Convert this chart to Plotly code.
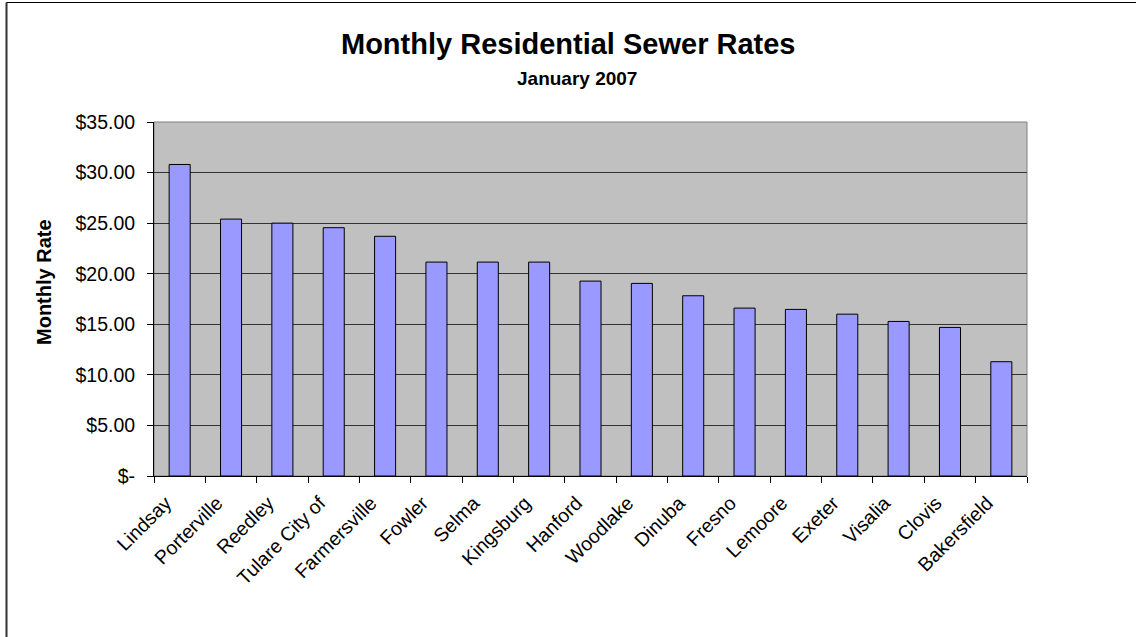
import plotly.graph_objects as go

cities = ["Lindsay", "Porterville", "Reedley", "Tulare City of", "Farmersville", "Fowler",
          "Selma", "Kingsburg", "Hanford", "Woodlake", "Dinuba", "Fresno", "Lemoore",
          "Exeter", "Visalia", "Clovis", "Bakersfield"]
rates = [30.80, 25.40, 25.00, 24.55, 23.70, 21.15, 21.15, 21.15, 19.27, 19.04, 17.82,
         16.60, 16.47, 16.00, 15.28, 14.69, 11.30]
tick_vals = [0, 5, 10, 15, 20, 25, 30, 35]
tick_text = ["$-", "$5.00", "$10.00", "$15.00", "$20.00", "$25.00", "$30.00", "$35.00"]

W, H = 1136, 637
L, R, T, B = 154, 109, 122, 161
PW, PH = W - L - R, H - T - B

def px(x):
    return (x - L) / PW

def py(y):
    return (H - B - y) / PH

fig = go.Figure()
fig.add_trace(go.Bar(x=cities, y=rates, marker=dict(color="#9999FF", line=dict(color="black", width=1)),
                     width=0.41))

fig.update_layout(
    width=W, height=H,
    margin=dict(l=L, r=R, t=T, b=B),
    paper_bgcolor="white", plot_bgcolor="#C0C0C0",
    font=dict(family="Liberation Sans, Arial", color="black"),
    showlegend=False,
)
fig.add_annotation(text="<b>Monthly Residential Sewer Rates</b>", xref="paper", yref="paper",
                   x=px(568), y=py(44), xanchor="center", yanchor="middle", showarrow=False,
                   font=dict(size=29))
fig.add_annotation(text="<b>January 2007</b>", xref="paper", yref="paper",
                   x=px(577), y=py(78), xanchor="center", yanchor="middle", showarrow=False,
                   font=dict(size=19))
fig.add_annotation(text="<b>Monthly Rate</b>", xref="paper", yref="paper",
                   x=px(44), y=py(282), xanchor="center", yanchor="middle", showarrow=False,
                   textangle=-90, font=dict(size=20))

fig.update_yaxes(range=[0, 35], tickvals=tick_vals, ticktext=tick_text,
                 tickfont=dict(size=19.5), showgrid=True, gridcolor="#333333", gridwidth=1,
                 showline=True, linecolor="black", linewidth=1, mirror=False,
                 ticks="outside", ticklen=6, tickcolor="black", ticklabelstandoff=8,
                 zeroline=False)
fig.update_xaxes(tickangle=-45, tickfont=dict(size=19.5), showline=True, linecolor="black",
                 linewidth=1, ticks="outside", ticklen=6, tickcolor="black",
                 ticklabelstandoff=7, ticklabelshift=-14,
                 tickson="boundaries", showgrid=False)

# plot area border (grey)
fig.add_shape(type="rect", xref="paper", yref="paper", x0=0, y0=0, x1=1, y1=1,
              line=dict(color="#808080", width=1), layer="below")
# chart area border (left and top visible)
fig.add_shape(type="line", xref="paper", yref="paper", x0=px(6.5), x1=px(6.5),
              y0=py(H + 5), y1=py(2.5), line=dict(color="#333333", width=2))
fig.add_shape(type="line", xref="paper", yref="paper", x0=px(6.5), x1=px(W + 5),
              y0=py(2.5), y1=py(2.5), line=dict(color="black", width=1))

fig.write_html("out.html", config={"displayModeBar": False},
               post_script="document.body.style.margin='0';document.body.style.padding='0';")
